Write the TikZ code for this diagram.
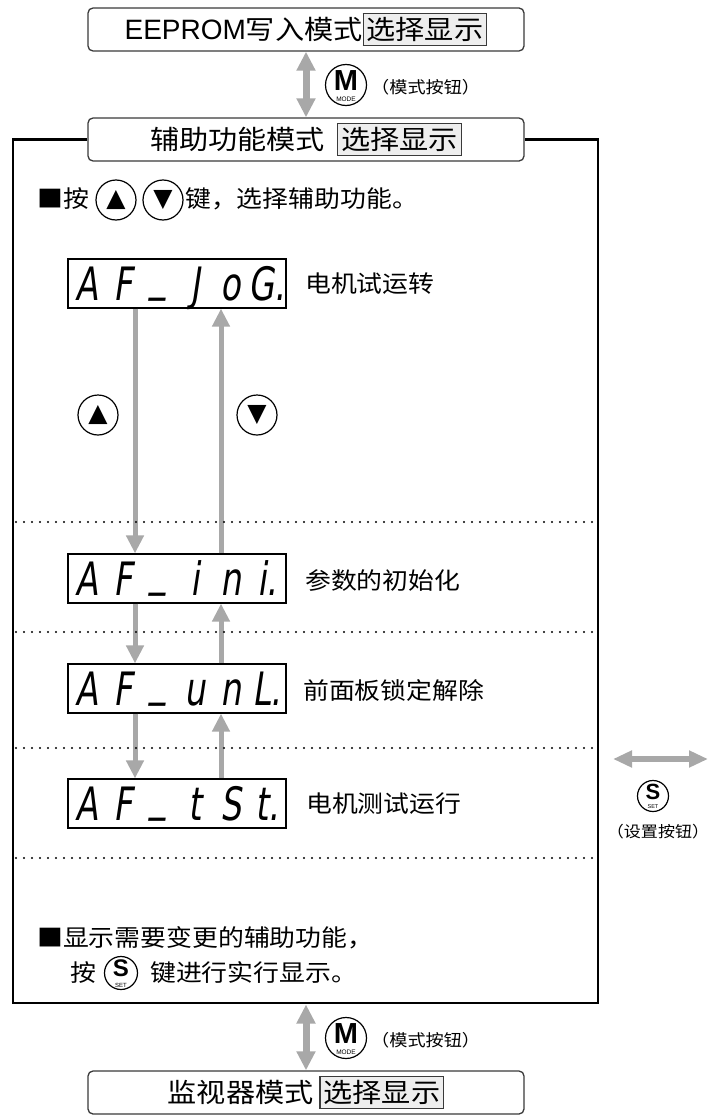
\documentclass[tikz,border=0pt]{standalone}
\usepackage{fontspec}
\setmainfont[FakeStretch=1.1]{Noto Sans CJK SC}
\newfontfamily\symfont{DejaVu Sans}
\newfontfamily\btnfont{Liberation Sans}
\newfontfamily\segfont[FakeStretch=0.72,FakeSlant=0.15]{DejaVu Sans}
\usetikzlibrary{arrows.meta}
\definecolor{arrowgray}{HTML}{A8A8A8}
\definecolor{selfill}{HTML}{EEEEEE}
\definecolor{edgegray}{HTML}{3A3A3A}
\newcommand\selbox[1]{{\setlength{\fboxrule}{1.1pt}\setlength{\fboxsep}{3pt}\fcolorbox{edgegray}{selfill}{#1}}}
\newcommand\dchar[1]{\makebox[36pt][c]{#1}}
\newcommand\segbar{\raisebox{10pt}{\_}}
\begin{document}
\begin{tikzpicture}[x=1pt,y=-1pt,
  modebox/.style={draw=edgegray, line width=1.3pt, rounded corners=5pt, fill=white,
    minimum width=436pt, minimum height=43pt, inner sep=0pt, font=\fontsize{26.5}{28}\selectfont},
  dispbox/.style={draw=black, line width=1.2pt, minimum width=218pt, minimum height=49pt,
    inner sep=0pt, text height=34pt, text depth=0pt, font=\segfont\fontsize{46}{46}\selectfont},
  desc/.style={anchor=west, inner sep=0pt, font=\fontsize{23.5}{26}\selectfont},
  small/.style={inner sep=0pt, font=\fontsize{16.5}{18}\selectfont},
  grayarrow/.style={draw=arrowgray, line width=5pt, -{Triangle[width=17pt,length=18pt]}},
  biarrow/.style={draw=arrowgray, line width=7pt, {Triangle[width=18pt,length=19pt]}-{Triangle[width=18pt,length=19pt]}},
  sidearrow/.style={draw=arrowgray, line width=5.5pt, {Triangle[width=16pt,length=19pt]}-{Triangle[width=16pt,length=19pt]}},
  btn/.style={circle, draw=black, line width=1.2pt, inner sep=0pt, fill=white},
  btnbig/.style={inner sep=0pt, text depth=0pt, font=\btnfont\bfseries\fontsize{29}{29}\selectfont},
  btnsmall/.style={inner sep=0pt, text depth=0pt, font=\btnfont\fontsize{6.5}{6.5}\selectfont},
  tri/.style={inner sep=0pt, font=\symfont\fontsize{25}{25}\selectfont},
  dotline/.style={line width=2.2pt, dash pattern=on 0pt off 8pt, line cap=round, black},
  frame/.style={line width=2.4pt, black}]
\useasboundingbox (0,0) rectangle (709,1116);

% mode boxes
\node[modebox] (eep) at (306,29.5) {{\btnfont\fontsize{28}{28}\selectfont EEPROM}写入模式\selbox{选择显示}};
\node[modebox] (aux) at (306,139.5) {辅助功能模式\hspace{12pt}\selbox{选择显示}};
\node[modebox] (mon) at (306,1092.5) {监视器模式\hspace{6pt}\selbox{选择显示}};

% frame
\coordinate (fbl) at (13,1003);
\coordinate (fbr) at (598,1003);
\draw[frame] (aux.west) -| (fbl) -- (fbr) |- (aux.east);

% mode transitions
\draw[biarrow] (eep.south) -- (aux.north);
\node[btn, minimum size=41pt] (m1) at (346,85) {};
\node[btnbig] (m1l) at ([yshift=4pt]m1.center) {M};
\node[btnsmall] (m1s) at ([yshift=-14.5pt]m1.center) {MODE};
\node[small, anchor=west] (m1t) at (371,87) {（模式按钮）};

\coordinate (fbm) at (306,1004.5);
\draw[biarrow] (fbm) -- (mon.north);
\node[btn, minimum size=41pt] (m2) at (346,1038) {};
\node[btnbig] (m2l) at ([yshift=4pt]m2.center) {M};
\node[btnsmall] (m2s) at ([yshift=-14.5pt]m2.center) {MODE};
\node[small, anchor=west] (m2t) at (371,1040) {（模式按钮）};

% instruction line 1
\node[desc] (t1a) at (37,199) {■按};
\node[btn, minimum size=40pt] (ku) at (116,200) {};
\node[tri] (kut) at (ku.center) {▲};
\node[btn, minimum size=40pt] (kd) at (163,200) {};
\node[tri] (kdt) at (kd.center) {▼};
\node[desc] (t1b) at (185,199) {键，选择辅助功能。};

% displays
\node[dispbox] (d1) at (177,283.5) {\dchar{A}\dchar{F}\dchar{\segbar}\dchar{J}\dchar{o}\dchar{G.}};
\node[dispbox] (d2) at (177,578.5) {\dchar{A}\dchar{F}\dchar{\segbar}\dchar{i}\dchar{n}\dchar{i.}};
\node[dispbox] (d3) at (177,688.5) {\dchar{A}\dchar{F}\dchar{\segbar}\dchar{u}\dchar{n}\dchar{L.}};
\node[dispbox] (d4) at (177,803.5) {\dchar{A}\dchar{F}\dchar{\segbar}\dchar{t}\dchar{S}\dchar{t.}};

\node[desc] (l1) at (305,283.5) {电机试运转};
\node[desc] (l2) at (305,581) {参数的初始化};
\node[desc] (l3) at (303,691) {前面板锁定解除};
\node[desc] (l4) at (306,803.5) {电机测试运行};

% arrows between displays
\draw[grayarrow] ([xshift=-42pt]d1.south) -- ([xshift=-42pt]d2.north);
\draw[grayarrow] ([xshift=44pt]d2.north) -- ([xshift=44pt]d1.south);
\draw[grayarrow] ([xshift=-42pt]d2.south) -- ([xshift=-42pt]d3.north);
\draw[grayarrow] ([xshift=44pt]d3.north) -- ([xshift=44pt]d2.south);
\draw[grayarrow] ([xshift=-42pt]d3.south) -- ([xshift=-42pt]d4.north);
\draw[grayarrow] ([xshift=44pt]d4.north) -- ([xshift=44pt]d3.south);

\node[btn, minimum size=40pt] (au) at (98,415) {};
\node[tri] (aut) at (au.center) {▲};
\node[btn, minimum size=40pt] (ad) at (257,415) {};
\node[tri] (adt) at (ad.center) {▼};

% dotted separators
\draw[dotline] (16,522) -- (594,522);
\draw[dotline] (16,632) -- (594,632);
\draw[dotline] (16,748) -- (594,748);
\draw[dotline] (16,858) -- (594,858);

% set button at right
\coordinate (sa) at (613,759);
\coordinate (sb) at (708,759);
\draw[sidearrow] (sa) -- (sb);
\node[btn, minimum size=31pt] (s1) at (653,796) {};
\node[btnbig, font=\btnfont\bfseries\fontsize{22}{22}\selectfont] (s1l) at ([yshift=4pt]s1.center) {S};
\node[btnsmall, font=\btnfont\fontsize{5.5}{5.5}\selectfont] (s1s) at ([yshift=-11pt]s1.center) {SET};
\node[small, font=\fontsize{15.5}{17}\selectfont] (s1t) at (658,832) {（设置按钮）};

% instruction lines 2/3
\node[desc] (t2) at (37,938) {■显示需要变更的辅助功能，};
\node[desc] (t3a) at (70,973) {按};
\node[btn, minimum size=33pt] (s2) at (121,973) {};
\node[btnbig, font=\btnfont\bfseries\fontsize{24}{24}\selectfont] (s2l) at ([yshift=4.5pt]s2.center) {S};
\node[btnsmall, font=\btnfont\fontsize{6}{6}\selectfont] (s2s) at ([yshift=-12pt]s2.center) {SET};
\node[desc] (t3b) at (150,973) {键进行实行显示。};
\end{tikzpicture}
\end{document}
